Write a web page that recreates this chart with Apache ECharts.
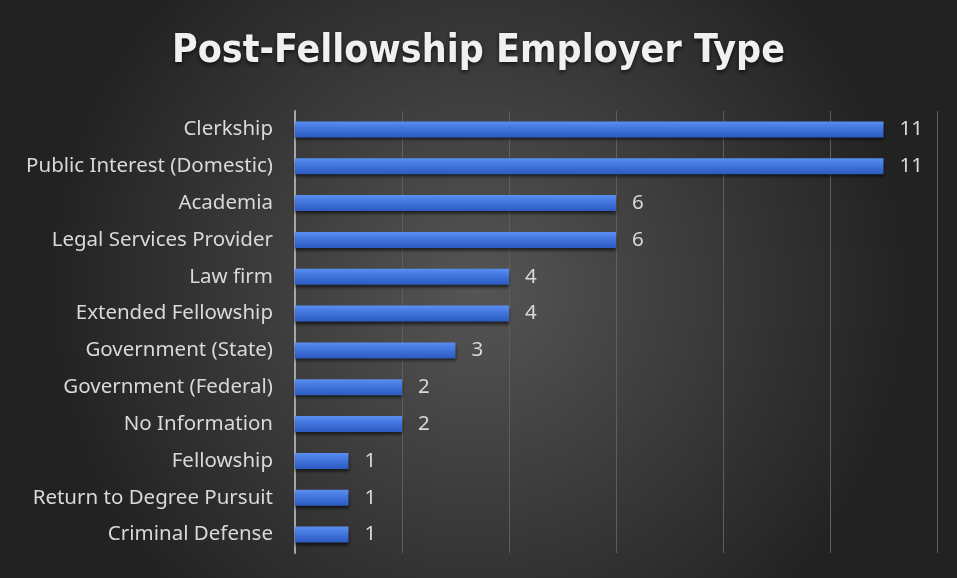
<!DOCTYPE html>
<html>
<head>
<meta charset="utf-8">
<script src="https://cdn.jsdelivr.net/npm/echarts@6/dist/echarts.min.js"></script>
<style>
html,body{margin:0;padding:0;background:#1c1c1c;}
#c{width:957px;height:578px;}
</style>
</head>
<body>
<div id="c"></div>
<script>
const categories = ["Clerkship","Public Interest (Domestic)","Academia","Legal Services Provider","Law firm","Extended Fellowship","Government (State)","Government (Federal)","No Information","Fellowship","Return to Degree Pursuit","Criminal Defense"];
const counts = [11,11,6,6,4,4,3,2,2,1,1,1];
const titleText = "Post-Fellowship Employer Type";

const chart = echarts.init(document.getElementById('c'));
chart.setOption({
  animation:false,
  backgroundColor:{
    type:'radial', x:0.5, y:0.5, r:0.75,
    colorStops:[{offset:0,color:'#555555'},{offset:1,color:'#222222'}]
  },
  title:{
    text:titleText, left:'center', top:27,
    textStyle:{fontFamily:'DejaVu Sans Condensed', fontWeight:'bold', fontSize:39, color:'#f0f0f0',
      textShadowColor:'rgba(0,0,0,0.7)', textShadowBlur:4, textShadowOffsetY:2}
  },
  grid:{left:295, right:20, top:111, bottom:25, containLabel:false},
  xAxis:{
    type:'value', min:0, max:12, interval:2,
    axisLabel:{show:false}, axisLine:{show:false}, axisTick:{show:false},
    splitLine:{lineStyle:{color:'#5e5e5e', width:1}}
  },
  yAxis:{
    type:'category', data:categories, inverse:true,
    axisLine:{lineStyle:{color:'#a6a6a6', width:2}},
    axisTick:{show:false},
    axisLabel:{color:'#d9d9d9', fontSize:20.5, fontFamily:'Noto Sans', margin:22}
  },
  series:[{
    type:'bar', data:counts, barWidth:16,
    itemStyle:{
      color:{type:'linear',x:0,y:0,x2:0,y2:1,colorStops:[{offset:0,color:'#5b8ef0'},{offset:0.5,color:'#3f72db'},{offset:1,color:'#2c5bc0'}]},
      shadowColor:'rgba(0,0,0,0.6)', shadowBlur:3, shadowOffsetY:3
    },
    label:{show:true, position:'right', distance:16, color:'#d9d9d9', fontSize:20.5, fontFamily:'Noto Sans'}
  }]
});
</script>
</body>
</html>
